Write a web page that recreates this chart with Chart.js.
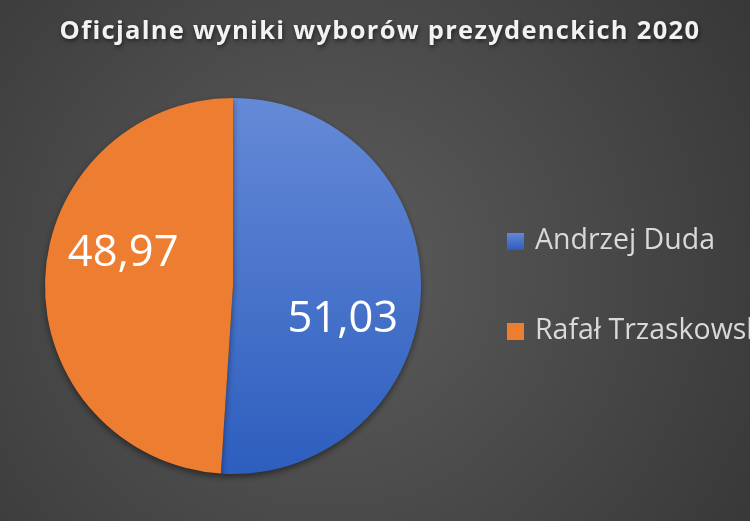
<!DOCTYPE html>
<html>
<head>
<meta charset="utf-8">
<script src="https://cdn.jsdelivr.net/npm/chart.js@4/dist/chart.umd.min.js"></script>
<style>
  html, body { margin: 0; padding: 0; background: #444; overflow: hidden; }
  #wrap { width: 750px; height: 521px; }
</style>
</head>
<body>
<div id="wrap"><canvas id="pie" width="750" height="521"></canvas></div>
<script>
let labels = ["Andrzej Duda", "Rafał Trzaskowski"];
let values = [51.03, 48.97];
let valueLabels = ["51,03", "48,97"];
let chartTitle = "Oficjalne wyniki wyborów prezydenckich 2020";

let blueGrad = (c, top, bottom) => {
    let g = c.createLinearGradient(0, top, 0, bottom);
    g.addColorStop(0, "#658ad7");
    g.addColorStop(1, "#2d5ebe");
    return g;
}
let sliceFill = (ctx) => {
    if (ctx.dataIndex == 1) return "#ed7d31";
    let area = ctx.chart.chartArea;
    if (!area) return "#4a78cf";
    return blueGrad(ctx.chart.ctx, area.top, area.bottom);
}

// background, title, legend and value labels
let backPlugin = {
    id: "back",
    beforeDraw(chart) {
        let c = chart.ctx;
        c.save();
        let g = c.createRadialGradient(330, 270, 20, 330, 270, 520);
        g.addColorStop(0, "#5b5b5b");
        g.addColorStop(1, "#363636");
        c.fillStyle = g;
        c.fillRect(0, 0, chart.width, chart.height);
        c.restore();
    },
    afterDraw(chart) {
        let c = chart.ctx;
        c.save();
        c.font = "bold 25.5px 'Open Sans'";
        c.letterSpacing = "1.3px";
        c.textAlign = "center";
        c.textBaseline = "middle";
        c.shadowColor = "rgba(0,0,0,0.55)";
        c.shadowBlur = 4;
        c.shadowOffsetX = 1;
        c.shadowOffsetY = 2;
        c.fillStyle = "#f2f2f2";
        c.fillText(chartTitle, 380, 32);
        c.restore();

        // legend, runs off the right edge like the original
        c.save();
        c.font = "28.5px 'Open Sans'";
        c.textBaseline = "middle";
        let y0 = 241, step = 90;
        labels.forEach((lab, i) => {
            let y = y0 + i * step;
            c.fillStyle = i == 0 ? blueGrad(c, y - 9, y + 9) : "#ed7d31";
            c.fillRect(507, y - 8, 17, 17);
            c.fillStyle = "#d9d9d9";
            c.fillText(lab, 535, y);
        });
        c.restore();
    },
    beforeDatasetsDraw(chart) {
        let c = chart.ctx;
        c.save();
        c.shadowColor = "rgba(0,0,0,0.45)";
        c.shadowBlur = 6;
        c.shadowOffsetY = 3;
    },
    afterDatasetsDraw(chart) {
        let c = chart.ctx;
        c.restore();
        c.save();
        c.font = "43.5px 'Open Sans'";
        c.fillStyle = "#ffffff";
        c.textAlign = "center";
        c.textBaseline = "middle";
        chart.getDatasetMeta(0).data.forEach((arc, i) => {
            let p = arc.getProps(["x", "y", "startAngle", "endAngle", "outerRadius"], true);
            let a = (p.startAngle + p.endAngle) / 2 + 0.26;
            let r = p.outerRadius * 0.61;
            c.fillText(valueLabels[i], p.x + Math.cos(a) * r, p.y + Math.sin(a) * r + 1);
        });
        c.restore();
    }
}

new Chart("pie", {
    type: "pie",
    data: {
        labels: labels,
        datasets: [{
            data: values,
            backgroundColor: sliceFill,
            borderWidth: 0,
            hoverOffset: 0
        }]
    },
    options: {
        responsive: false,
        animation: false,
        layout: { padding: { left: 45, right: 329, top: 98, bottom: 47 } },
        plugins: {
            legend: { display: false },
            title: { display: false },
            tooltip: { enabled: false }
        }
    },
    plugins: [backPlugin]
});
</script>
</body>
</html>
